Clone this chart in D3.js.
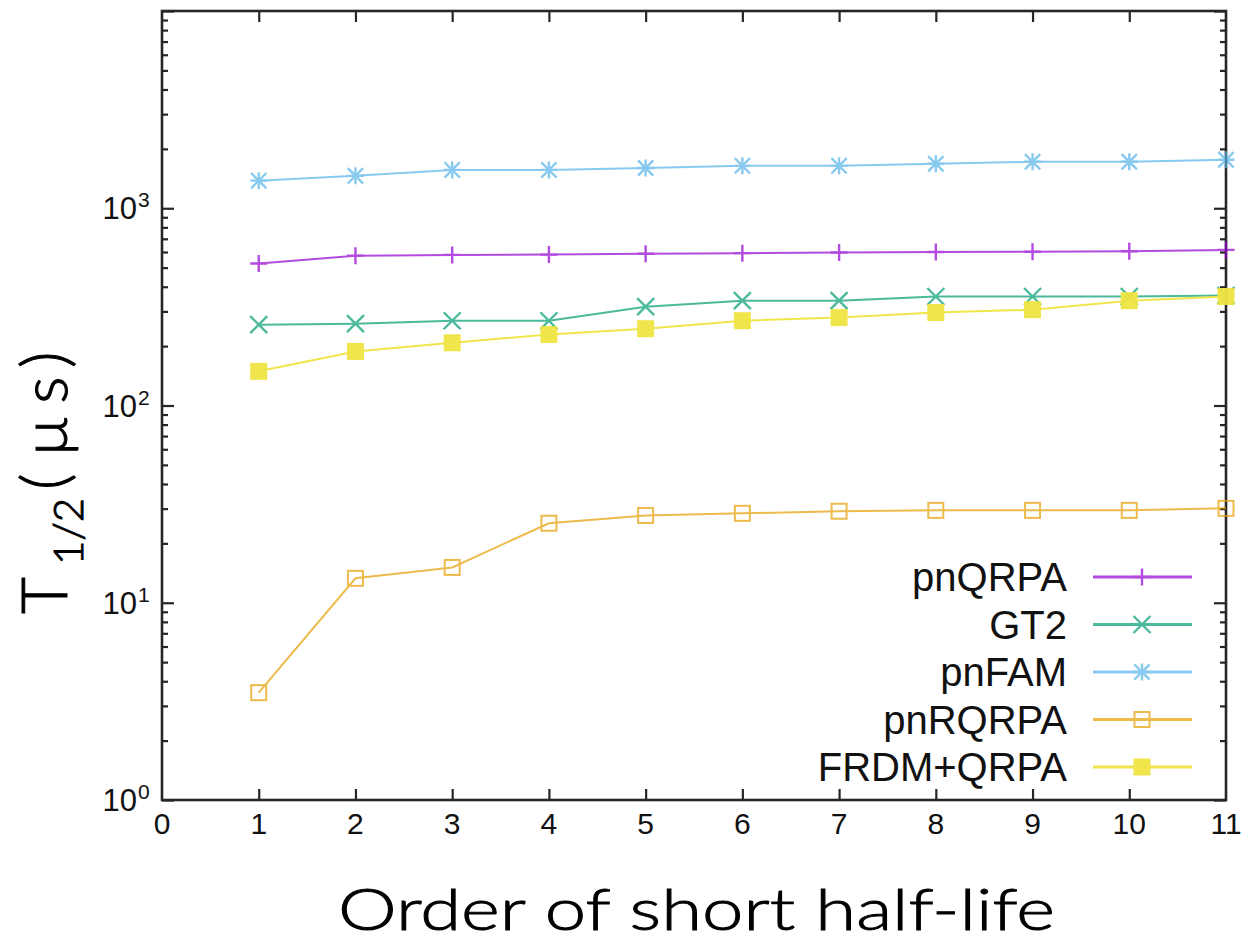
<!DOCTYPE html>
<html>
<head>
<meta charset="utf-8">
<script src="https://cdn.jsdelivr.net/npm/d3@7"></script>
<style>
  html, body { margin: 0; padding: 0; background: #fff; }
  svg { display: block; }
</style>
</head>
<body>
<svg id="chart" width="1255" height="942"></svg>
<script>
// Order index of each short half-life
const orders = [1, 2, 3, 4, 5, 6, 7, 8, 9, 10, 11];

// Half-lives (microseconds) for each model
const pnQRPA   = [525, 575, 580, 582, 588, 592, 597, 600, 602, 605, 615];
const GT2      = [257, 260, 269, 269, 317, 340, 340, 357, 357, 357, 361];
const pnFAM    = [1380, 1460, 1565, 1565, 1600, 1640, 1640, 1680, 1720, 1720, 1760];
const pnRQRPA  = [3.5, 13.3, 15.1, 25.3, 27.7, 28.4, 29.1, 29.4, 29.4, 29.4, 30.1];
const FRDMQRPA = [149, 188, 208, 229, 245, 269, 279, 296, 306, 340, 357];

const seriesNames = ["pnQRPA", "GT2", "pnFAM", "pnRQRPA", "FRDM+QRPA"];
const xTicks = [0, 1, 2, 3, 4, 5, 6, 7, 8, 9, 10, 11];
const yDecades = [0, 1, 2, 3];

const series = [
  { name: seriesNames[0], values: pnQRPA,   color: "#9400d3", marker: "plus" },
  { name: seriesNames[1], values: GT2,      color: "#009e73", marker: "cross" },
  { name: seriesNames[2], values: pnFAM,    color: "#56b4e9", marker: "star" },
  { name: seriesNames[3], values: pnRQRPA,  color: "#e69f00", marker: "openSquare" },
  { name: seriesNames[4], values: FRDMQRPA, color: "#f0e442", marker: "filledSquare" }
];

const svg = d3.select("#chart");
const plotL = 162, plotR = 1226, plotT = 11, plotB = 800;

const x = d3.scaleLinear().domain([0, 11]).range([plotL, plotR]);
const y = d3.scaleLog().domain([1, 1e4]).range([plotB, plotT]);

const axisColor = "#262626";

// minor tick values for the log axis
const minor = [];
for (let d = 0; d < 4; d++) for (let m = 2; m <= 9; m++) minor.push(m * Math.pow(10, d));
const major = [1, 10, 100, 1000, 10000];

function styleAxis(g) {
  g.select(".domain").remove();
  g.selectAll(".tick line").attr("stroke", axisColor).attr("stroke-width", 2.2);
  g.selectAll(".tick text").remove();
}

// left and right ticks (inward)
svg.append("g").attr("transform", `translate(${plotL},0)`)
  .call(d3.axisLeft(y).tickValues(major).tickSize(-12)).call(styleAxis);
svg.append("g").attr("transform", `translate(${plotL},0)`)
  .call(d3.axisLeft(y).tickValues(minor).tickSize(-6)).call(styleAxis);
svg.append("g").attr("transform", `translate(${plotR},0)`)
  .call(d3.axisRight(y).tickValues(major).tickSize(-12)).call(styleAxis);
svg.append("g").attr("transform", `translate(${plotR},0)`)
  .call(d3.axisRight(y).tickValues(minor).tickSize(-6)).call(styleAxis);

// bottom and top ticks (inward)
const innerX = xTicks.filter(v => v > 0 && v < 11);
svg.append("g").attr("transform", `translate(0,${plotB})`)
  .call(d3.axisBottom(x).tickValues(innerX).tickSize(-11)).call(styleAxis);
svg.append("g").attr("transform", `translate(0,${plotT})`)
  .call(d3.axisTop(x).tickValues(innerX).tickSize(-11)).call(styleAxis);

// frame
svg.append("rect")
  .attr("x", plotL).attr("y", plotT)
  .attr("width", plotR - plotL).attr("height", plotB - plotT)
  .attr("fill", "none").attr("stroke", axisColor).attr("stroke-width", 2.6);

// x tick labels
svg.append("g").selectAll("text").data(xTicks).join("text")
  .attr("x", d => x(d))
  .attr("y", 834)
  .attr("text-anchor", "middle")
  .attr("font-family", "'Liberation Sans Narrow', 'Liberation Sans', sans-serif")
  .attr("font-size", 30)
  .attr("fill", "#111")
  .text(d => d);

// y tick labels with superscript exponents
svg.append("g").selectAll("text").data(yDecades).join("text")
  .attr("x", 137)
  .attr("y", d => y(Math.pow(10, d)) + 11)
  .attr("text-anchor", "end")
  .attr("font-family", "'Liberation Sans Narrow', 'Liberation Sans', sans-serif")
  .attr("font-size", 31)
  .attr("fill", "#111")
  .text("10");
svg.append("g").selectAll("text").data(yDecades).join("text")
  .attr("x", 138)
  .attr("y", d => y(Math.pow(10, d)) - 1)
  .attr("font-family", "'Liberation Sans Narrow', 'Liberation Sans', sans-serif")
  .attr("font-size", 21)
  .attr("fill", "#111")
  .text(d => d);

// marker drawing
function drawMarker(g, type, color, cx, cy) {
  const s = 8.5;
  if (type === "plus" || type === "star") {
    g.append("path").attr("d", `M${cx - s},${cy}H${cx + s}M${cx},${cy - s}V${cy + s}`)
      .attr("stroke", color).attr("stroke-width", 2.4).attr("fill", "none");
  }
  if (type === "cross" || type === "star") {
    const t = type === "star" ? s * 0.9 : s;
    g.append("path").attr("d", `M${cx - t},${cy - t}L${cx + t},${cy + t}M${cx - t},${cy + t}L${cx + t},${cy - t}`)
      .attr("stroke", color).attr("stroke-width", 2.4).attr("fill", "none");
  }
  if (type === "openSquare") {
    g.append("rect").attr("x", cx - 7.5).attr("y", cy - 7.5).attr("width", 15).attr("height", 15)
      .attr("fill", "none").attr("stroke", color).attr("stroke-width", 2);
  }
  if (type === "filledSquare") {
    g.append("rect").attr("x", cx - 8.5).attr("y", cy - 8.5).attr("width", 17).attr("height", 17)
      .attr("fill", color).attr("stroke", "none");
  }
}

const line = d3.line().x((d, i) => x(orders[i])).y(d => y(d));

series.forEach(s => {
  const g = svg.append("g").attr("opacity", s.marker === "filledSquare" ? 0.95 : 0.7);
  g.append("path").datum(s.values)
    .attr("d", line)
    .attr("fill", "none")
    .attr("stroke", s.color)
    .attr("stroke-width", 2);
  s.values.forEach((v, i) => drawMarker(g, s.marker, s.color, x(orders[i]), y(v)));
});

// legend
const legY0 = 577, legStep = 47.5;
series.forEach((s, i) => {
  const ly = legY0 + i * legStep;
  svg.append("text")
    .attr("x", 1067).attr("y", ly + 14)
    .attr("text-anchor", "end")
    .attr("font-family", "'Liberation Sans', Arial, sans-serif")
    .attr("font-size", 40)
    .attr("fill", "#111")
    .text(s.name);
  const g = svg.append("g").attr("opacity", s.marker === "filledSquare" ? 0.95 : 0.7);
  g.append("line").attr("x1", 1093).attr("x2", 1192).attr("y1", ly).attr("y2", ly)
    .attr("stroke", s.color).attr("stroke-width", 3);
  drawMarker(g, s.marker, s.color, 1142, ly);
});

// y-axis title
const yt = svg.append("text")
  .attr("transform", "translate(67,614) rotate(-90)")
  .attr("font-family", "Lato, 'Open Sans', sans-serif")
  .attr("font-weight", 300)
  .attr("font-size", 64)
  .attr("fill", "#000")
  .attr("stroke", "#000")
  .attr("stroke-width", 1);
yt.append("tspan").text("T");
yt.append("tspan").attr("dy", 16).attr("dx", 12).attr("font-size", 42).text("1/2");
yt.append("tspan").attr("dy", -16).attr("dx", 8).text("(");
yt.append("tspan").attr("dx", 18).text("μ");
yt.append("tspan").attr("dx", 14).text("s");
yt.append("tspan").attr("dx", 10).text(")");

// x-axis title
svg.append("text")
  .attr("x", 338).attr("y", 930)
  .attr("textLength", 717)
  .attr("lengthAdjust", "spacingAndGlyphs")
  .attr("font-family", "Lato, 'Open Sans', sans-serif")
  .attr("font-weight", 300)
  .attr("font-size", 58)
  .attr("fill", "#000")
  .attr("stroke", "#000")
  .attr("stroke-width", 0.9)
  .text("Order of short half-life");
</script>
</body>
</html>
